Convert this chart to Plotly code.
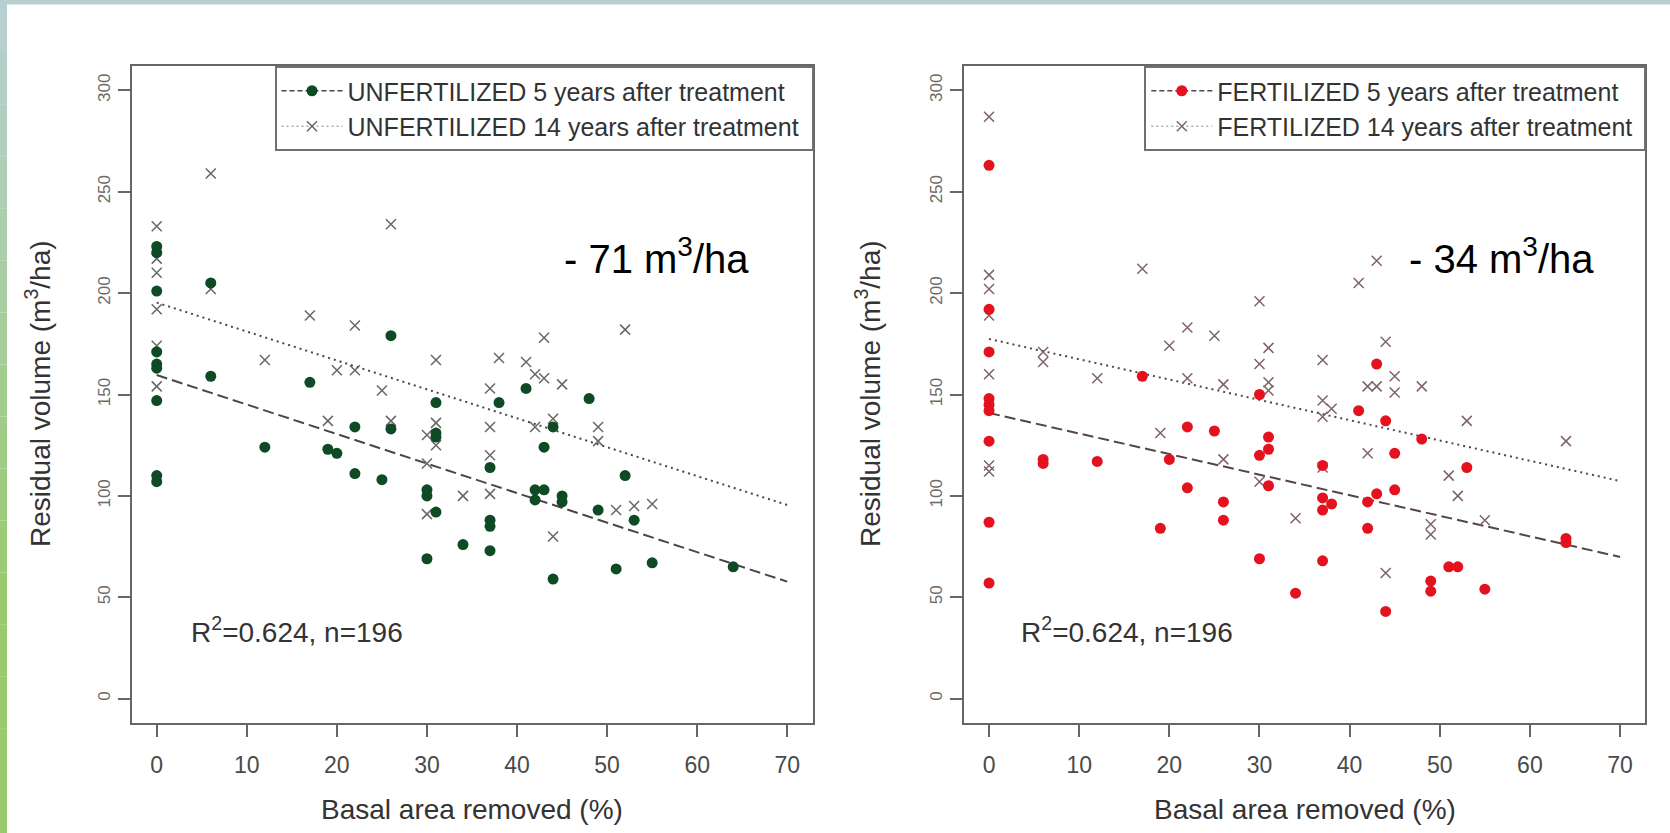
import plotly.graph_objects as go

W, H = 1670, 833

# ---------------- data ----------------
x_ticks = [0, 10, 20, 30, 40, 50, 60, 70]
y_ticks = [0, 50, 100, 150, 200, 250, 300]

# UNFERTILIZED, 5 years after treatment
unf5_x = [0, 0, 0, 0, 0, 0, 0, 0, 0, 6, 6, 12, 17, 19, 20, 22, 22, 25, 26, 26,
          30, 30, 30, 31, 31, 31, 31, 34, 37, 37, 37, 37, 38, 41, 42, 42, 43, 43,
          44, 44, 45, 45, 48, 49, 51, 52, 53, 55, 64]
unf5_y = [223, 220, 201, 171, 165, 163, 147, 110, 107, 205, 159, 124, 156, 123, 121, 134, 111, 108, 179, 133,
          103, 100, 69, 146, 131, 129, 92, 76, 114, 88, 85, 73, 146, 153, 103, 98, 103, 124,
          134, 59, 100, 97, 148, 93, 64, 110, 88, 67, 65]

# UNFERTILIZED, 14 years after treatment
unf14_x = [0, 0, 0, 0, 0, 0, 6, 6, 12, 17, 19, 20, 22, 22, 25, 26, 26, 30, 30, 30,
           31, 31, 31, 34, 37, 37, 37, 37, 38, 41, 42, 42, 43, 43, 44, 44, 45, 49, 49,
           51, 52, 53, 55]
unf14_y = [233, 217, 210, 192, 174, 154, 259, 202, 167, 189, 137, 162, 184, 162, 152, 234, 137, 130, 116, 91,
           167, 136, 125, 100, 153, 134, 120, 101, 168, 166, 160, 134, 178, 158, 138, 80, 155, 134, 127,
           93, 182, 95, 96]

# FERTILIZED, 5 years after treatment
fer5_x = [0, 0, 0, 0, 0, 0, 0, 0, 0, 6, 6, 12, 17, 19, 20, 22, 22, 25, 26, 26,
          30, 30, 30, 31, 31, 31, 34, 37, 37, 37, 37, 38, 41, 42, 42, 43, 43, 44, 44,
          45, 45, 48, 49, 49, 51, 52, 53, 55, 64, 64]
fer5_y = [263, 192, 171, 148, 145, 142, 127, 87, 57, 118, 116, 117, 159, 84, 118, 134, 104, 132, 97, 88,
          150, 120, 69, 129, 123, 105, 52, 115, 99, 93, 68, 96, 142, 97, 84, 165, 101, 137, 43,
          121, 103, 128, 58, 53, 65, 65, 114, 54, 79, 77]

# FERTILIZED, 14 years after treatment
fer14_x = [0, 0, 0, 0, 0, 0, 0, 6, 6, 12, 17, 19, 20, 22, 22, 25, 26, 26, 30, 30, 30,
           31, 31, 31, 34, 37, 37, 37, 37, 38, 41, 42, 42, 43, 43, 44, 44, 45, 45, 48,
           49, 49, 51, 52, 53, 55, 64]
fer14_y = [287, 209, 202, 189, 160, 115, 112, 171, 166, 158, 212, 131, 174, 183, 158, 179, 155, 118, 196, 165, 107,
           173, 156, 152, 89, 167, 147, 139, 114, 143, 205, 154, 121, 216, 154, 176, 62, 159, 151, 154,
           86, 81, 110, 100, 137, 88, 127]

# regression lines (values at x = 0 and x = 70)
fit_x = [0, 70]
unf5_fit = [159.6, 57.7]
unf14_fit = [195.3, 95.5]
fer5_fit = [140.9, 69.9]
fer14_fit = [177.4, 107.3]

legend_unf = ["UNFERTILIZED 5 years after treatment", "UNFERTILIZED 14 years after treatment"]
legend_fer = ["FERTILIZED 5 years after treatment", "FERTILIZED 14 years after treatment"]
diff_labels = ["- 71 m<sup>3</sup>/ha", "- 34 m<sup>3</sup>/ha"]
r2_label = "R<sup>2</sup>=0.624, n=196"
x_title = "Basal area removed (%)"
y_title = "Residual volume (m<sup>3</sup>/ha)"

# ---------------- style ----------------
FONT = "Liberation Sans, Arial, sans-serif"
GREEN = "#0e4b25"
RED = "#e3121e"
XGRAY_L = "#676767"
XGRAY_R = "#7e636a"
LINE_L = "#484848"
LINE_R = "#574448"
FRAME = "#666666"
PAD = "\u00a0"   # small right padding inside the legend box

fig = go.Figure()

def add_panel(xa, ya, c5x, c5y, c14x, c14y, f5, f14, dotcol, xcol, lcol, leg, names):
    fig.add_trace(go.Scatter(x=fit_x, y=f14, mode="lines", xaxis=xa, yaxis=ya, showlegend=False,
                             line=dict(color=lcol, width=2, dash="2px,4px"), hoverinfo="skip"))
    fig.add_trace(go.Scatter(x=fit_x, y=f5, mode="lines", xaxis=xa, yaxis=ya, showlegend=False,
                             line=dict(color=lcol, width=2, dash="11px,5px"), hoverinfo="skip"))
    fig.add_trace(go.Scatter(x=c14x, y=c14y, mode="markers", xaxis=xa, yaxis=ya, showlegend=False,
                             marker=dict(symbol="x-thin", size=10, line=dict(color=xcol, width=1.5))))
    fig.add_trace(go.Scatter(x=c5x, y=c5y, mode="markers", xaxis=xa, yaxis=ya, showlegend=False,
                             marker=dict(symbol="circle", size=11, color=dotcol, line=dict(width=0))))
    # legend entries
    fig.add_trace(go.Scatter(x=[None], y=[None], mode="lines+markers", xaxis=xa, yaxis=ya,
                             name=names[0] + PAD, legend=leg,
                             line=dict(color=lcol, width=1.5, dash="5px,3px"),
                             marker=dict(symbol="circle", size=11, color=dotcol)))
    fig.add_trace(go.Scatter(x=[None], y=[None], mode="lines+markers", xaxis=xa, yaxis=ya,
                             name=names[1] + PAD, legend=leg,
                             line=dict(color="#aaaaaa", width=1.5, dash="2px,3px"),
                             marker=dict(symbol="x-thin", size=10, line=dict(color=xcol, width=1.5))))

add_panel("x", "y", unf5_x, unf5_y, unf14_x, unf14_y, unf5_fit, unf14_fit, GREEN, XGRAY_L, LINE_L, "legend", legend_unf)
add_panel("x2", "y2", fer5_x, fer5_y, fer14_x, fer14_y, fer5_fit, fer14_fit, RED, XGRAY_R, LINE_R, "legend2", legend_fer)

# panel geometry in pixels
L1, R1 = 131.5, 812.5
L2, R2 = 963.8, 1645.3
TOP, BOT = 66, 723

def xdom(a, b):
    return [a / W, b / W]

ydom = [1 - BOT / H, 1 - TOP / H]

xcommon = dict(range=[-2.8, 72.8], tickvals=x_ticks, showgrid=False, zeroline=False,
               showline=True, mirror=True, linecolor=FRAME, linewidth=2,
               ticks="outside", ticklen=12, tickwidth=2, tickcolor=FRAME,
               tickfont=dict(family=FONT, size=23, color="#4a4a4a"), ticklabelstandoff=8,
               automargin=False, fixedrange=True)
ycommon = dict(range=[-12, 312], tickvals=y_ticks, showgrid=False, zeroline=False,
               showline=True, mirror=True, linecolor=FRAME, linewidth=2,
               ticks="outside", ticklen=12, tickwidth=2, tickcolor=FRAME, tickangle=-90,
               tickfont=dict(family=FONT, size=17, color="#6a6a6a"), ticklabelstandoff=1,
               automargin=False, fixedrange=True)

legcommon = dict(y=1 - TOP / H, yanchor="top", xanchor="right",
                 bgcolor="white", bordercolor="#707070", borderwidth=2,
                 font=dict(family=FONT, size=25, color="#333333"), itemwidth=61,
                 tracegroupgap=0)

fig.update_layout(
    width=W, height=H,
    margin=dict(l=0, r=0, t=0, b=0),
    paper_bgcolor="white", plot_bgcolor="white",
    font=dict(family=FONT, color="#333333"),
    xaxis=dict(domain=xdom(L1, R1), anchor="y", **xcommon),
    yaxis=dict(domain=ydom, anchor="x", **ycommon),
    xaxis2=dict(domain=xdom(L2, R2), anchor="y2", **xcommon),
    yaxis2=dict(domain=ydom, anchor="x2", **ycommon),
    legend=dict(x=(R1 + 1) / W, **legcommon),
    legend2=dict(x=(R2 + 1) / W, **legcommon),
    showlegend=True,
)

ann = []
for (l, r) in [(L1, R1), (L2, R2)]:
    ann.append(dict(text=x_title, x=(l + r) / 2 / W, y=1 - 809 / H, xref="paper", yref="paper",
                    showarrow=False, xanchor="center", yanchor="middle",
                    font=dict(family=FONT, size=28, color="#333333")))
for yx in [38, 868]:
    ann.append(dict(text=y_title, x=yx / W, y=1 - 394 / H, xref="paper", yref="paper", textangle=-90,
                    showarrow=False, xanchor="center", yanchor="middle",
                    font=dict(family=FONT, size=28, color="#333333")))
for txt, cx in zip(diff_labels, [656, 1501]):
    ann.append(dict(text=txt, x=cx / W, y=1 - 256 / H, xref="paper", yref="paper",
                    showarrow=False, xanchor="center", yanchor="middle",
                    font=dict(family=FONT, size=40, color="#000000")))
for cx in [297, 1127]:
    ann.append(dict(text=r2_label, x=cx / W, y=1 - 630 / H, xref="paper", yref="paper",
                    showarrow=False, xanchor="center", yanchor="middle",
                    font=dict(family=FONT, size=28, color="#333333")))
fig.update_layout(annotations=ann)

# slide decoration: top strip and left gradient strip
shapes = [dict(type="rect", xref="paper", yref="paper", x0=0, x1=1, y0=1 - 4.5 / H, y1=1,
               fillcolor="#b7cfd0", line=dict(width=0), layer="below")]
top_c = (183, 207, 208)
bot_c = (152, 203, 110)
n = 16
for i in range(n):
    t = i / (n - 1)
    c = tuple(int(round(top_c[k] + (bot_c[k] - top_c[k]) * min(1, t * 1.4))) for k in range(3))
    shapes.append(dict(type="rect", xref="paper", yref="paper", x0=0, x1=7 / W,
                       y0=1 - (i + 1) / n, y1=1 - i / n,
                       fillcolor="rgb(%d,%d,%d)" % c, line=dict(width=0), layer="below"))
fig.update_layout(shapes=shapes)

fig.write_html("out.html")
